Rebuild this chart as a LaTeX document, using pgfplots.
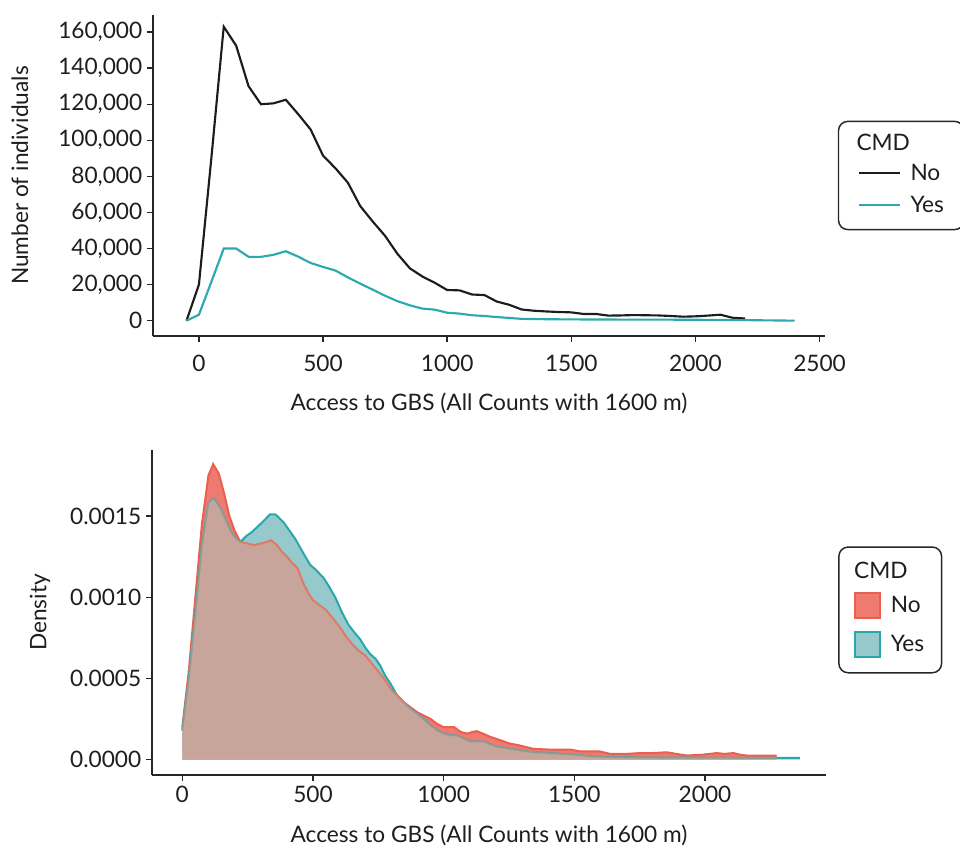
\documentclass[border=0pt]{standalone}
\usepackage{fontspec}
\setmainfont{Lato}
\usepackage{pgfplots}
\pgfplotsset{compat=1.18}
\usepackage{pgfplotstable}

\definecolor{axisc}{HTML}{262626}
\definecolor{textc}{HTML}{1E1E1E}
\definecolor{noline}{HTML}{1C1C1C}
\definecolor{yesline}{HTML}{2AAAAE}
\definecolor{redfill}{HTML}{EF7A70}
\definecolor{tealfill}{HTML}{96C9CC}
\definecolor{ovfill}{HTML}{C8A59B}
\definecolor{rededge}{HTML}{E8604F}
\definecolor{tealedge}{HTML}{2AA7AB}
\definecolor{greyedge}{HTML}{8E9C95}
\definecolor{salmonedge}{HTML}{E07B68}

\newcommand\fsz{\fontsize{17}{20}\selectfont}

% ---------- top panel: counts ----------
\pgfplotstableread{
x y
-50 0
0 20000
50 90000
100 163000
150 152500
200 130000
250 120000
300 120500
350 122500
400 114500
450 106000
500 91500
550 84500
600 76500
650 63500
700 55000
750 47000
800 37000
850 29000
900 24500
950 21000
1000 17000
1050 16800
1100 14500
1150 14200
1200 10600
1250 8800
1300 6200
1350 5500
1400 5100
1450 4800
1500 4600
1550 3700
1600 3700
1650 2800
1700 2900
1750 3100
1800 3000
1850 2900
1900 2600
1950 2200
2000 2400
2050 2800
2100 3300
2150 1600
2200 1200
}\countNo

\pgfplotstableread{
x y
-50 0
0 3300
50 21500
100 40000
150 40000
200 35400
250 35400
300 36500
350 38500
400 35500
450 32000
500 29800
550 27800
600 24000
650 20500
700 17200
750 13800
800 10800
850 8500
900 6700
950 6100
1000 4400
1050 3900
1100 3000
1150 2600
1200 2000
1250 1500
1300 1000
1400 800
1500 700
1600 650
1700 600
1800 600
1900 550
2000 500
2100 400
2200 300
2300 150
2400 0
}\countYes

% ---------- bottom panel: densities ----------
\pgfplotstableread{
x y
0 0.00020
25 0.00055
50 0.00100
75 0.00145
100 0.00175
118 0.00182
140 0.00176
160 0.00164
180 0.00150
200 0.00141
222 0.00134
250 0.00133
275 0.00132
300 0.00133
325 0.00134
340 0.00135
362 0.00132
380 0.00128
400 0.00125
420 0.00121
440 0.00118
464 0.00108
480 0.00103
500 0.00098
525 0.00095
550 0.00092
575 0.00087
600 0.00082
625 0.00076
650 0.00071
675 0.00067
700 0.00064
725 0.00059
750 0.00054
775 0.00049
800 0.00043
825 0.00039
850 0.00035
875 0.00032
900 0.00029
925 0.00027
950 0.00025
975 0.00022
1000 0.00020
1025 0.00020
1040 0.00020
1065 0.00017
1090 0.00016
1110 0.00017
1127 0.000175
1150 0.00016
1178 0.00014
1216 0.00012
1250 0.00010
1293 0.000086
1344 0.000066
1400 0.000062
1484 0.000062
1522 0.00005
1560 0.00005
1598 0.00005
1637 0.000035
1700 0.000035
1750 0.00004
1800 0.00004
1853 0.000045
1890 0.000035
1930 0.000025
1990 0.00003
2045 0.00004
2075 0.000035
2109 0.00004
2135 0.00003
2160 0.000025
2274 0.000025
}\densNo

\pgfplotstableread{
x y
0 0.00018
25 0.00050
50 0.00090
75 0.00132
100 0.00158
120 0.00161
145 0.00155
165 0.00148
184 0.00141
200 0.00137
222 0.00134
247 0.00138
265 0.00140
285 0.00143
311 0.00147
335 0.00151
356 0.00151
370 0.00149
388 0.00146
410 0.00141
432 0.00136
460 0.00128
489 0.00120
510 0.00117
540 0.00112
560 0.00107
585 0.00100
610 0.00091
636 0.00083
660 0.00078
681 0.00074
700 0.00069
719 0.00065
740 0.00062
757 0.00058
775 0.00052
796 0.00047
820 0.00040
847 0.00035
875 0.00031
900 0.00028
923 0.00025
950 0.00021
975 0.00018
1000 0.00016
1025 0.00015
1051 0.000148
1075 0.00013
1102 0.000111
1153 0.000111
1200 0.00008
1216 0.000076
1293 0.000056
1344 0.000045
1400 0.00004
1500 0.00003
1560 0.00002
1637 0.000014
1800 0.000012
2000 0.000011
2200 0.00001
2363 0.00001
}\densYes

% overlap of the two areas (its upper edge is the lower of the two curves)
\pgfplotstableread{
x y
0 0.00018
25 0.00050
50 0.00090
75 0.00132
100 0.00158
120 0.00161
145 0.00155
165 0.00148
184 0.00141
200 0.00137
222 0.00134
250 0.00133
275 0.00132
300 0.00133
325 0.00134
340 0.00135
362 0.00132
380 0.00128
400 0.00125
420 0.00121
440 0.00118
464 0.00108
480 0.00103
500 0.00098
525 0.00095
550 0.00092
575 0.00087
600 0.00082
625 0.00076
650 0.00071
675 0.00067
700 0.00064
725 0.00059
750 0.00054
775 0.00049
800 0.00043
825 0.00039
848 0.00035
875 0.00031
900 0.00028
923 0.00025
950 0.00021
975 0.00018
1000 0.00016
1025 0.00015
1051 0.000148
1075 0.00013
1102 0.000111
1153 0.000111
1200 0.00008
1216 0.000076
1293 0.000056
1344 0.000045
1400 0.00004
1500 0.00003
1560 0.00002
1637 0.000014
1800 0.000012
2000 0.000011
2200 0.00001
2274 0.00001
}\ovAll
\pgfplotstableread{
x y
0 0.00018
25 0.00050
50 0.00090
75 0.00132
100 0.00158
120 0.00161
145 0.00155
165 0.00148
184 0.00141
200 0.00137
222 0.00134
}\ovA
\pgfplotstableread{
x y
222 0.00134
250 0.00133
275 0.00132
300 0.00133
325 0.00134
340 0.00135
362 0.00132
380 0.00128
400 0.00125
420 0.00121
440 0.00118
464 0.00108
480 0.00103
500 0.00098
525 0.00095
550 0.00092
575 0.00087
600 0.00082
625 0.00076
650 0.00071
675 0.00067
700 0.00064
725 0.00059
750 0.00054
775 0.00049
800 0.00043
825 0.00039
848 0.00035
}\ovB
\pgfplotstableread{
x y
848 0.00035
875 0.00031
900 0.00028
923 0.00025
950 0.00021
975 0.00018
1000 0.00016
1025 0.00015
1051 0.000148
1075 0.00013
1102 0.000111
1153 0.000111
1200 0.00008
1216 0.000076
1293 0.000056
1344 0.000045
1400 0.00004
1500 0.00003
1560 0.00002
1637 0.000014
1800 0.000012
2000 0.000011
2200 0.00001
2274 0.00001
}\ovC

\pgfplotsset{
  panel/.style={
    scale only axis,
    axis lines*=left,
    axis line style={draw=axisc, line width=1.1pt, -},
    tick style={draw=axisc, line width=1.1pt},
    tick align=outside,
    major tick length=4.5pt,
    scaled ticks=false,
    /pgf/number format/assume math mode=true,
    tick label style={font=\fsz, text=textc},
    label style={font=\fsz, text=textc},
    xticklabel style={/pgf/number format/1000 sep={}},
    legend cell align=left,
  }
}

\begin{document}
\begin{tikzpicture}
\useasboundingbox (0,0) rectangle (720pt,636.75pt);

% ---------------- top ----------------
\begin{axis}[panel,
  at={(114.75pt,384.75pt)}, anchor=south west,
  width=504pt, height=240.75pt,
  xmin=-185, xmax=2522, ymin=-8500, ymax=169500,
  xtick={0,500,1000,1500,2000,2500},
  ytick={0,20000,40000,60000,80000,100000,120000,140000,160000},
  yticklabel style={/pgf/number format/.cd, fixed, 1000 sep={,}},
  xticklabel style={yshift=-6.5pt},
  xlabel={Access to GBS (All Counts with 1600 m)},
  ylabel={Number of individuals},
  xlabel style={at={(axis description cs:0.5,-0.209)}, anchor=center},
  ylabel style={at={(axis description cs:-0.198,0.5)}, anchor=center},
  legend style={at={(axis description cs:1.019,0.5)}, anchor=west,
    draw=axisc, line width=1.1pt, rounded corners=7pt, fill=white,
    font=\fsz, text=textc, inner xsep=13pt, inner ysep=9.5pt, row sep=6.5pt,
    /tikz/every odd column/.style={column sep=5pt}},
  legend image code/.code={\draw[#1, sharp corners] (0pt,0pt) -- (30.75pt,0pt);},
]
\addlegendimage{legend image code/.code={\node[anchor=west, inner sep=0pt, text=textc, font=\fsz] at (-3pt,0pt) {\makebox[0pt][l]{CMD}};}}
\addlegendentry{}
\addplot[noline, line width=1.6pt] table {\countNo};
\addlegendentry{No}
\addplot[yesline, line width=1.6pt] table {\countYes};
\addlegendentry{Yes}
\end{axis}

% ---------------- bottom ----------------
\begin{axis}[panel,
  at={(114pt,55.5pt)}, anchor=south west,
  width=505.5pt, height=243.75pt,
  xmin=-116, xmax=2463, ymin=-0.000095, ymax=0.001907,
  xtick={0,500,1000,1500,2000},
  ytick={0,0.0005,0.0010,0.0015},
  yticklabel style={/pgf/number format/.cd, fixed, fixed zerofill, precision=4},
  xlabel={Access to GBS (All Counts with 1600 m)},
  ylabel={Density},
  xlabel style={at={(axis description cs:0.5,-0.185)}, anchor=center},
  ylabel style={at={(axis description cs:-0.166,0.5)}, anchor=center},
  legend style={at={(axis description cs:1.018,0.508)}, anchor=west,
    draw=axisc, line width=1.1pt, rounded corners=7pt, fill=white,
    font=\fsz, text=textc, inner xsep=11pt, inner ysep=11pt, row sep=9pt,
    /tikz/every odd column/.style={column sep=5pt}},
  legend image code/.code={\draw[#1, sharp corners] (0pt,-9.375pt) rectangle (18.75pt,9.375pt);},
]
\addlegendimage{legend image code/.code={\node[anchor=west, inner sep=0pt, text=textc, font=\fsz] at (-2pt,0pt) {\makebox[0pt][l]{CMD}};}}
\addlegendentry{}
\addlegendimage{fill=redfill, draw=rededge, line width=1.5pt}
\addlegendentry{No}
\addlegendimage{fill=tealfill, draw=tealedge, line width=1.5pt}
\addlegendentry{Yes}

\addplot[fill=redfill, draw=none, forget plot] table {\densNo} \closedcycle;
\addplot[fill=tealfill, draw=none, forget plot] table {\densYes} \closedcycle;
\addplot[rededge, line width=1.5pt, forget plot] table {\densNo};
\addplot[tealedge, line width=1.5pt, forget plot] table {\densYes};
\addplot[fill=ovfill, draw=none, forget plot] table {\ovAll} \closedcycle;
\addplot[greyedge, line width=1.3pt, forget plot] table {\ovA};
\addplot[salmonedge, line width=1.3pt, forget plot] table {\ovB};
\addplot[greyedge, line width=1.3pt, forget plot] table {\ovC};
\end{axis}
\end{tikzpicture}
\end{document}
